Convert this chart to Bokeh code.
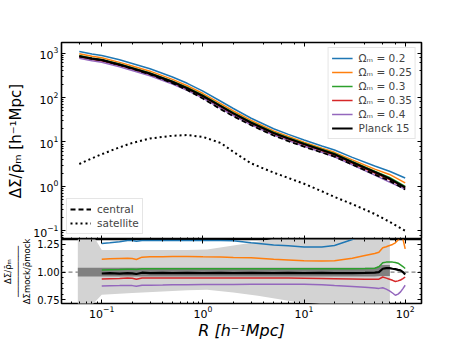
from bokeh.plotting import figure
from bokeh.models import (Range1d, LogAxis, LinearAxis, Legend, LegendItem, Span,
                          FixedTicker, NumeralTickFormatter, CustomJSTickFormatter)
from bokeh.layouts import column
from bokeh.embed import file_html
from bokeh.resources import INLINE

FONT = "DejaVu Sans"

# ---------------- data ----------------
R_top = [0.06, 0.08, 0.1, 0.15, 0.2, 0.3, 0.5, 0.7, 1.0, 1.5, 2.0, 3.0, 5.0, 7.0,
         10, 15, 20, 30, 50, 70, 100]
om_020 = [1080, 950, 880, 705, 585, 445, 290, 209, 139, 82.5, 56.7, 34.2, 19.9, 14.8,
          11.1, 8.1, 6.6, 4.5, 2.88, 2.2, 1.55]
om_025 = [965, 845, 785, 618, 512, 392, 256, 184, 123, 72.7, 49.8, 30.5, 17.8, 13.35,
          9.9, 7.25, 5.85, 3.95, 2.45, 1.86, 1.2]
om_030 = [880, 770, 720, 566, 470, 358, 234, 168, 112.5, 66.6, 45.8, 28.1, 16.6, 12.5,
          9.35, 6.85, 5.5, 3.65, 2.2, 1.6, 1.0]
om_035 = [815, 715, 665, 525, 435, 330, 215, 155, 103, 61, 42, 25.8, 15.3, 11.5,
          8.6, 6.3, 5.05, 3.33, 1.99, 1.42, 0.93]
om_040 = [765, 670, 625, 492, 407, 309, 201, 145, 96.6, 57.3, 39.4, 24.2, 14.3, 10.75,
          8.05, 5.85, 4.65, 3.05, 1.8, 1.25, 0.87]
planck = [850, 750, 700, 550, 455, 345, 225, 162, 108, 64, 44, 27, 16, 12.0,
          9.0, 6.6, 5.3, 3.5, 2.1, 1.5, 0.95]
central = [847, 746, 695, 542, 445, 333, 211, 148, 95, 54.5, 38, 23.9, 14, 10.45,
           7.85, 5.8, 4.7, 3.1, 1.86, 1.34, 0.85]
satellite = [3.2, 4.3, 5.3, 7.6, 9.5, 12, 13.8, 14.3, 13, 9.5, 6.0, 3.3, 2.05, 1.55,
             1.15, 0.78, 0.58, 0.4, 0.24, 0.16, 0.1]

R_ratio = [0.1, 0.12, 0.15, 0.18, 0.2, 0.22, 0.25, 0.3, 0.4, 0.5, 0.7, 1.0, 1.5, 2.0,
           3.0, 5.0, 7.0, 10, 15, 20, 30, 40, 50, 55, 60, 65, 70, 75, 80, 85, 90, 95, 100]
r_020 = [1.258, 1.265, 1.275, 1.285, 1.285, 1.28, 1.285, 1.285, 1.287, 1.285, 1.287, 1.287,
         1.285, 1.283, 1.265, 1.245, 1.238, 1.228, 1.228, 1.24, 1.295, 1.34, 1.37, 1.39,
         1.42, 1.45, 1.47, 1.5, 1.52, 1.55, 1.57, 1.6, 1.62]
r_025 = [1.117, 1.12, 1.123, 1.125, 1.122, 1.114, 1.135, 1.138, 1.138, 1.14, 1.14, 1.138,
         1.136, 1.133, 1.13, 1.115, 1.11, 1.103, 1.10, 1.102, 1.125, 1.15, 1.168, 1.18,
         1.22, 1.23, 1.24, 1.25, 1.265, 1.29, 1.32, 1.30, 1.21]
r_030 = [1.018, 1.02, 1.022, 1.025, 1.026, 1.024, 1.03, 1.03, 1.03, 1.03, 1.03, 1.03,
         1.03, 1.03, 1.03, 1.03, 1.03, 1.03, 1.03, 1.03, 1.03, 1.032, 1.035, 1.048,
         1.084, 1.09, 1.09, 1.09, 1.087, 1.08, 1.065, 1.05, 1.032]
r_035 = [0.937, 0.94, 0.942, 0.945, 0.944, 0.935, 0.947, 0.945, 0.945, 0.945, 0.945, 0.946,
         0.946, 0.947, 0.947, 0.946, 0.945, 0.944, 0.942, 0.94, 0.937, 0.935, 0.934, 0.935,
         0.955, 0.945, 0.935, 0.925, 0.915, 0.92, 0.928, 0.94, 0.955]
r_040 = [0.874, 0.876, 0.877, 0.878, 0.877, 0.872, 0.88, 0.88, 0.882, 0.884, 0.886, 0.888,
         0.888, 0.888, 0.889, 0.89, 0.89, 0.89, 0.885, 0.878, 0.87, 0.862, 0.855, 0.852,
         0.858, 0.845, 0.83, 0.81, 0.79, 0.80, 0.82, 0.85, 0.88]
r_planck = [0.987, 0.99, 0.985, 0.99, 0.988, 0.982, 0.994, 0.99, 0.992, 0.99, 0.993, 0.99,
            0.993, 0.99, 0.992, 0.99, 0.993, 0.99, 0.992, 0.99, 0.99, 0.992, 0.995, 1.0,
            1.03, 1.035, 1.035, 1.03, 1.027, 1.02, 1.015, 1.0, 0.978]

R_band = [0.058, 0.08, 0.1, 0.2, 0.4, 0.7, 1.1, 2.0, 3.5, 5.5, 8.0, 20, 40, 70.6]
band_hi = [1.35, 1.35, 1.20, 1.20, 1.20, 1.20, 1.205, 1.24, 1.275, 1.31, 1.35, 1.35, 1.35, 1.35]
band_lo = [0.70, 0.70, 0.795, 0.81, 0.823, 0.835, 0.84, 0.815, 0.785, 0.755, 0.73, 0.70, 0.70, 0.70]
R_dark = [0.058, 50, 58, 70.6]
dark_hi = [1.04, 1.04, 1.065, 1.065]
dark_lo = [0.96, 0.96, 0.965, 0.965]

labels = ["Ωₘ = 0.2", "Ωₘ = 0.25", "Ωₘ = 0.3", "Ωₘ = 0.35", "Ωₘ = 0.4", "Planck 15"]
colors = ["#1f77b4", "#ff7f0e", "#2ca02c", "#d62728", "#9467bd", "black"]

# ---------------- figures ----------------
xr = Range1d(0.04, 145)
BL = 51


def style_axis(ax, size="11px"):
    ax.major_label_text_font = FONT
    ax.major_label_text_font_size = size
    ax.major_label_text_color = "black"
    ax.axis_label_text_font = FONT
    ax.axis_label_text_color = "black"
    ax.major_tick_in = 4
    ax.major_tick_out = 0
    ax.minor_tick_in = 2
    ax.minor_tick_out = 0
    ax.major_tick_line_color = "black"
    ax.minor_tick_line_color = "black"
    ax.axis_line_color = None
    ax.major_label_standoff = 3


def hidden_axis(ax):
    style_axis(ax)
    ax.formatter = CustomJSTickFormatter(code="return '';")
    ax.major_label_text_font_size = "1px"
    ax.major_label_standoff = 0


top = figure(x_axis_type="log", y_axis_type="log", x_range=xr,
             y_range=Range1d(0.064, 1730), frame_width=360, frame_height=197,
             min_border_left=BL, min_border_right=12, min_border_top=42,
             min_border_bottom=0, output_backend="svg", toolbar_location=None)
top.grid.visible = False
top.outline_line_color = "black"
top.outline_line_width = 1.6

style_axis(top.yaxis[0])
top.yaxis[0].axis_label = "ΔΣ/ρ̄ₘ [h⁻¹Mpc]"
top.yaxis[0].axis_label_text_font_size = "15px"
top.yaxis[0].axis_label_text_font_style = "normal"
top.yaxis[0].axis_label_standoff = 5
hidden_axis(top.xaxis[0])
ax_r = LogAxis()
hidden_axis(ax_r)
top.add_layout(ax_r, "right")
ax_t = LogAxis()
hidden_axis(ax_t)
top.add_layout(ax_t, "above")

series = [om_020, om_025, om_030, om_035, om_040]
rends = []
for ys, c in zip(series, colors[:5]):
    rends.append(top.line(R_top, ys, line_color=c, line_width=1.5))
rends.append(top.line(R_top, planck, line_color="black", line_width=2.2))
r_cen = top.line(R_top, central, line_color="black", line_width=1.8, line_dash="5 3")
r_sat = top.line(R_top, satellite, line_color="black", line_width=2, line_dash="2 3")

leg1 = Legend(items=[LegendItem(label=l, renderers=[r]) for l, r in zip(labels, rends)],
              location="top_right")
leg2 = Legend(items=[LegendItem(label="central", renderers=[r_cen]),
                     LegendItem(label="satellite", renderers=[r_sat])],
              location="bottom_left")
for lg in (leg1, leg2):
    lg.label_text_font = FONT
    lg.label_text_font_size = "10.5px"
    lg.label_height = 14
    lg.glyph_height = 14
    lg.glyph_width = 21
    lg.label_standoff = 6
    lg.spacing = 0
    lg.padding = 3
    lg.margin = 5
    lg.border_line_color = "#cccccc"
    lg.border_line_width = 1
    lg.background_fill_alpha = 0.8
top.add_layout(leg1)
top.add_layout(leg2)

bot = figure(x_axis_type="log", x_range=xr, y_range=Range1d(0.715, 1.295),
             frame_width=360, frame_height=64, min_border_left=BL,
             min_border_right=12, min_border_top=0, min_border_bottom=4,
             output_backend="svg", toolbar_location=None)
bot.grid.visible = False
bot.outline_line_color = "black"
bot.outline_line_width = 1.6

yt = FixedTicker(ticks=[0.75, 1.0, 1.25],
                 minor_ticks=[0.8, 0.85, 0.9, 0.95, 1.05, 1.1, 1.15, 1.2])
style_axis(bot.yaxis[0], size="10px")
bot.yaxis[0].ticker = yt
bot.yaxis[0].formatter = NumeralTickFormatter(format="0.00")
bot.yaxis[0].axis_label = "ΔΣ/ρ̄ₘ\n──────────\nΔΣmock/ρ̄mock"
bot.yaxis[0].axis_label_text_font_size = "8.5px"
bot.yaxis[0].axis_label_text_font_style = "normal"
bot.yaxis[0].axis_label_text_line_height = 0.95
bot.yaxis[0].axis_label_standoff = 2
bot.yaxis[0].major_label_standoff = 2

style_axis(bot.xaxis[0], size="11px")
bot.xaxis[0].axis_label = "R [h⁻¹Mpc]"
bot.xaxis[0].axis_label_text_font_size = "16px"
bot.xaxis[0].axis_label_text_font_style = "italic"
bot.xaxis[0].axis_label_standoff = 0
bot.xaxis[0].major_label_standoff = 2

ax_r2 = LinearAxis(ticker=FixedTicker(ticks=[0.75, 1.0, 1.25],
                   minor_ticks=[0.8, 0.85, 0.9, 0.95, 1.05, 1.1, 1.15, 1.2]))
hidden_axis(ax_r2)
bot.add_layout(ax_r2, "right")
ax_t2 = LogAxis()
hidden_axis(ax_t2)
bot.add_layout(ax_t2, "above")

bot.add_layout(Span(location=1.0, dimension="width", line_color="#808080",
                    line_dash="4 3", line_width=1.2, level="underlay"))
bot.varea(x=R_band, y1=band_lo, y2=band_hi, fill_color="#d3d3d3")
bot.varea(x=R_dark, y1=dark_lo, y2=dark_hi, fill_color="#808080")
for ys, c in zip([r_020, r_025, r_030, r_035, r_040], colors[:5]):
    bot.line(R_ratio, ys, line_color=c, line_width=1.5)
bot.line(R_ratio, r_planck, line_color="black", line_width=2.2)

layout = column(top, bot, spacing=0)
open("out.html", "w").write(file_html(layout, INLINE))
